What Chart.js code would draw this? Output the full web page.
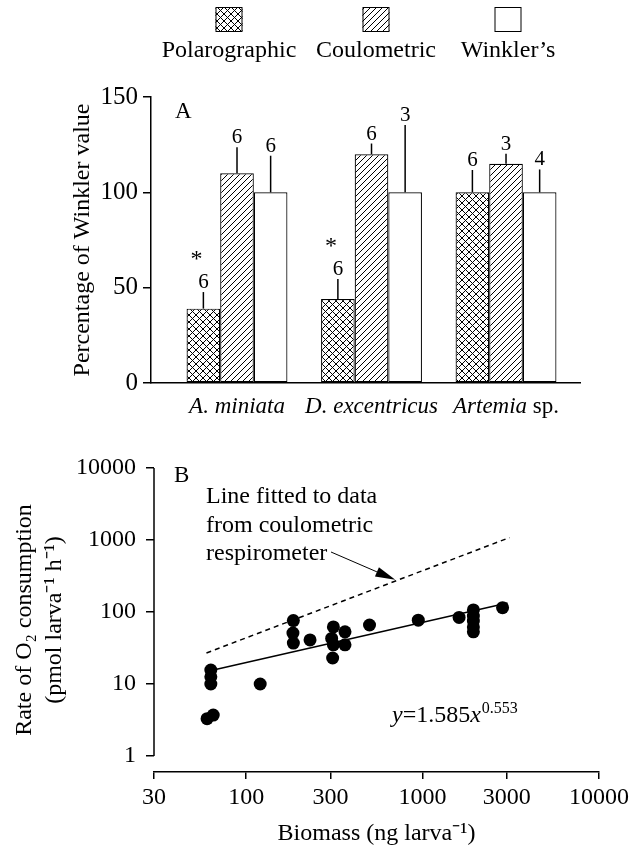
<!DOCTYPE html>
<html>
<head>
<meta charset="utf-8">
<script src="https://cdn.jsdelivr.net/npm/chart.js@4.4.0/dist/chart.umd.min.js"></script>
<style>
  body { margin: 0; background: #fff; }
  #wrap { position: relative; width: 641px; height: 849px; }
  canvas { position: absolute; left: 0; }
  #chartA { top: 0; }
  #chartB { top: 430px; }
</style>
</head>
<body>
<div id="wrap">
  <canvas id="chartA" width="641" height="430"></canvas>
  <canvas id="chartB" width="641" height="419"></canvas>
</div>
<script>
// panel A - percentage of Winkler value
const species = ['A. miniata', 'D. excentricus', 'Artemia sp.'];
const methods = ['Polarographic', 'Coulometric', 'Winkler\u2019s'];
const polarographic = [39, 44, 100];
const coulometric = [110, 120, 115];
const winkler = [100, 100, 100];
const polarographicErr = [8.7, 10.6, 11.7];
const coulometricErr = [13.6, 5.6, 5.3];
const winklerErr = [19.2, 35.3, 12];
const polarographicN = [6, 6, 6];
const coulometricN = [6, 6, 3];
const winklerN = [6, 3, 4];
const polarographicSig = [true, true, false];
const yTicksA = [0, 50, 100, 150];

// panel B - O2 consumption vs biomass
const biomass = [63, 63, 63, 60, 65, 120, 185, 184, 185, 230, 312, 305, 312, 309, 363, 363, 500, 945, 1610, 1940, 1940, 1940, 1940, 1940, 2840];
const rate = [15.6, 12.6, 10, 3.3, 3.7, 10, 76, 51, 37, 41, 62, 43, 35, 23, 53, 35, 66, 77, 84, 107, 88, 75, 62, 53, 115];
const fitBiomass = [68, 3030];
const fitRate = [16, 133];
const coulBiomass = [59.5, 3110];
const coulRate = [27, 1080];
const xTicksB = [30, 100, 300, 1000, 3000, 10000];
const yTicksB = [1, 10, 100, 1000, 10000];

const SERIF = "'Liberation Serif', 'Times New Roman', serif";
Chart.defaults.font.family = SERIF;
Chart.defaults.color = '#000';

function makePattern(step, cross) {
    const c = document.createElement('canvas');
    c.width = step; c.height = step;
    const g = c.getContext('2d');
    g.fillStyle = '#fff';
    g.fillRect(0, 0, step, step);
    g.strokeStyle = '#000';
    g.lineWidth = 1;
    g.beginPath();
    g.moveTo(-1, step + 1); g.lineTo(step + 1, -1);
    g.moveTo(-1, 1); g.lineTo(1, -1);
    g.moveTo(step - 1, step + 1); g.lineTo(step + 1, step - 1);
    if (cross) {
        g.moveTo(-1, -1); g.lineTo(step + 1, step + 1);
        g.moveTo(step - 1, -1); g.lineTo(step + 1, 1);
        g.moveTo(-1, step - 1); g.lineTo(1, step + 1);
    }
    g.stroke();
    return g.createPattern(c, 'repeat');
}

const crossHatch = makePattern(7, true);
const diagHatch = makePattern(6, false);

const toXY = (vals) => vals.map((v, i) => ({ x: i + 1, y: v }));
const pairs = (xs, ys) => xs.map((x, i) => ({ x: x, y: ys[i] }));

// legend, error bars, n labels, species names
const panelA = {
    id: 'panelA',
    afterDatasetsDraw(chart) {
        const ctx = chart.ctx;
        const yScale = chart.scales.y;
        ctx.save();
        ctx.strokeStyle = '#000';
        ctx.fillStyle = '#000';
        ctx.lineWidth = 1.5;
        ctx.textAlign = 'center';
        ctx.textBaseline = 'alphabetic';
        chart.data.datasets.forEach((ds, d) => {
            const meta = chart.getDatasetMeta(d);
            meta.data.forEach((bar, i) => {
                const top = yScale.getPixelForValue(ds.data[i].y + ds.err[i]);
                ctx.beginPath();
                ctx.moveTo(bar.x, bar.y);
                ctx.lineTo(bar.x, top);
                ctx.stroke();
                ctx.font = '21px ' + SERIF;
                const base = top - 4;
                ctx.fillText(String(ds.n[i]), bar.x, base);
                if (ds.sig && ds.sig[i]) {
                    ctx.font = '24px ' + SERIF;
                    ctx.fillText('*', bar.x - 7, base - 22);
                }
            });
        });
        ctx.restore();
    },
    afterDraw(chart) {
        const ctx = chart.ctx;
        const xScale = chart.scales.x;
        ctx.save();
        ctx.fillStyle = '#000';
        ctx.strokeStyle = '#000';

        // legend
        const legendX = [229, 376, 508];
        chart.data.datasets.forEach((ds, i) => {
            const cx = legendX[i];
            ctx.fillStyle = ds.backgroundColor;
            ctx.fillRect(cx - 13.5, 7, 27, 25);
            ctx.lineWidth = 1;
            ctx.strokeRect(cx - 13.5 + 0.5, 7.5, 26, 24);
            ctx.fillStyle = '#000';
            ctx.font = '24px ' + SERIF;
            ctx.textAlign = 'center';
            ctx.textBaseline = 'alphabetic';
            ctx.fillText(ds.label, cx, 57);
        });

        // panel letter
        ctx.textAlign = 'left';
        ctx.font = '23px ' + SERIF;
        ctx.fillText('A', 175, 118);

        // species names
        species.forEach((name, i) => {
            const cx = xScale.getPixelForValue(i + 1);
            let ital = name, plain = '';
            if (name.endsWith(' sp.')) {
                ital = name.slice(0, -4);
                plain = ' sp.';
            }
            ctx.font = 'italic 23px ' + SERIF;
            const w1 = ctx.measureText(ital).width;
            ctx.font = '23px ' + SERIF;
            const w2 = ctx.measureText(plain).width;
            let x = cx - (w1 + w2) / 2;
            ctx.font = 'italic 23px ' + SERIF;
            ctx.fillText(ital, x, 413);
            ctx.font = '23px ' + SERIF;
            ctx.fillText(plain, x + w1, 413);
        });
        ctx.restore();
    }
};

new Chart(document.getElementById('chartA'), {
    type: 'bar',
    data: {
        datasets: [
            { label: methods[0], data: toXY(polarographic), backgroundColor: crossHatch, err: polarographicErr, n: polarographicN, sig: polarographicSig },
            { label: methods[1], data: toXY(coulometric), backgroundColor: diagHatch, err: coulometricErr, n: coulometricN },
            { label: methods[2], data: toXY(winkler), backgroundColor: '#fff', err: winklerErr, n: winklerN }
        ]
    },
    options: {
        responsive: false,
        animation: false,
        devicePixelRatio: 1,
        layout: { padding: { top: 97, right: 61, left: 0, bottom: 0 } },
        datasets: {
            bar: { borderColor: '#000', borderWidth: 1.2, borderSkipped: false, categoryPercentage: 0.75, barPercentage: 1 }
        },
        plugins: { legend: { display: false }, tooltip: { enabled: false } },
        scales: {
            x: {
                type: 'linear',
                offset: false,
                min: 0.3606,
                max: 3.55,
                afterBuildTicks: (s) => { s.ticks = [1, 2, 3].map(v => ({ value: v })); },
                afterFit: (s) => { s.height = 47; },
                ticks: { display: false },
                grid: { display: false, offset: false },
                border: { color: '#000', width: 1.5 }
            },
            y: {
                min: 0,
                max: 150,
                afterBuildTicks: (s) => { s.ticks = yTicksA.map(v => ({ value: v })); },
                afterFit: (s) => { s.width = 151; },
                ticks: { font: { size: 25 }, color: '#000', padding: 5 },
                grid: { drawOnChartArea: false, tickLength: 8, color: '#000', lineWidth: 1.5 },
                border: { color: '#000', width: 1.5 },
                title: {
                    display: true,
                    text: 'Percentage of Winkler value',
                    font: { size: 24, lineHeight: 1.25 },
                    color: '#000',
                    padding: { top: 68, bottom: 0 }
                }
            }
        }
    },
    plugins: [panelA]
});

// y axis line, annotation, arrow and equation
const panelB = {
    id: 'panelB',
    afterDraw(chart) {
        const ctx = chart.ctx;
        const xs = chart.scales.x, ys = chart.scales.y;
        ctx.save();
        ctx.strokeStyle = '#000';
        ctx.fillStyle = '#000';
        ctx.lineWidth = 1.5;
        const ax = chart.chartArea.left;
        ctx.beginPath();
        ctx.moveTo(ax, ys.getPixelForValue(yTicksB[0]));
        ctx.lineTo(ax, ys.getPixelForValue(yTicksB[yTicksB.length - 1]));
        ctx.stroke();

        ctx.textAlign = 'left';
        ctx.textBaseline = 'alphabetic';
        ctx.font = '23px ' + SERIF;
        ctx.fillText('B', 174, 52);

        ctx.font = '24px ' + SERIF;
        ctx.fillText('Line fitted to data', 206, 73);
        ctx.fillText('from coulometric', 206, 101.5);
        ctx.fillText('respirometer', 206, 130);

        // arrow to the dashed line
        const tx = xs.getPixelForValue(700), ty = ys.getPixelForValue(280);
        const sx = 331, sy = 122;
        const ang = Math.atan2(ty - sy, tx - sx);
        const hl = 20, hw = 5;
        const bx = tx - hl * Math.cos(ang), by = ty - hl * Math.sin(ang);
        ctx.lineWidth = 1;
        ctx.beginPath();
        ctx.moveTo(sx, sy);
        ctx.lineTo(bx, by);
        ctx.stroke();
        ctx.beginPath();
        ctx.moveTo(tx, ty);
        ctx.lineTo(bx + hw * Math.sin(ang), by - hw * Math.cos(ang));
        ctx.lineTo(bx - hw * Math.sin(ang), by + hw * Math.cos(ang));
        ctx.closePath();
        ctx.fill();

        // equation
        let x = 392;
        const base = 291.7;
        ctx.font = 'italic 24px ' + SERIF;
        ctx.fillText('y', x, base); x += ctx.measureText('y').width;
        ctx.font = '24px ' + SERIF;
        ctx.fillText('=1.585', x, base); x += ctx.measureText('=1.585').width;
        ctx.font = 'italic 24px ' + SERIF;
        ctx.fillText('x', x, base); x += ctx.measureText('x').width;
        ctx.font = '16px ' + SERIF;
        ctx.fillText('0.553', x + 1, base - 9);
        ctx.restore();
    }
};

new Chart(document.getElementById('chartB'), {
    type: 'scatter',
    data: {
        datasets: [
            { data: pairs(biomass, rate), pointRadius: 6.5, backgroundColor: '#000', borderWidth: 0 },
            { data: pairs(fitBiomass, fitRate), showLine: true, pointRadius: 0, borderColor: '#000', borderWidth: 1.5 },
            { data: pairs(coulBiomass, coulRate), showLine: true, pointRadius: 0, borderColor: '#000', borderWidth: 1.5, borderDash: [5, 4] }
        ]
    },
    options: {
        responsive: false,
        animation: false,
        devicePixelRatio: 1,
        layout: { padding: { top: 38, right: 42, left: 0, bottom: 0 } },
        plugins: { legend: { display: false }, tooltip: { enabled: false } },
        scales: {
            x: {
                type: 'logarithmic',
                min: 30,
                max: 10000,
                afterBuildTicks: (s) => { s.ticks = xTicksB.map(v => ({ value: v })); },
                afterFit: (s) => { s.height = 77; },
                ticks: { font: { size: 24 }, color: '#000', padding: 4, autoSkip: false, maxRotation: 0, callback: (v) => String(v) },
                grid: { drawOnChartArea: false, tickLength: 7, color: '#000', lineWidth: 1.5 },
                border: { color: '#000', width: 1.5 },
                title: {
                    display: true,
                    text: 'Biomass (ng larva\u207B\u00B9)',
                    font: { size: 24, lineHeight: 1.25 },
                    color: '#000',
                    padding: { top: 0, bottom: 0 }
                }
            },
            y: {
                type: 'logarithmic',
                min: 0.6,
                max: 10000,
                afterBuildTicks: (s) => { s.ticks = yTicksB.map(v => ({ value: v })); },
                afterFit: (s) => { s.width = 154; },
                ticks: { font: { size: 24 }, color: '#000', padding: 10, autoSkip: false, callback: (v) => String(v) },
                grid: { drawOnChartArea: false, tickLength: 8, color: '#000', lineWidth: 1.5 },
                border: { display: false },
                title: {
                    display: true,
                    text: ['Rate of O\u2082 consumption', '(pmol larva\u207B\u00B9 h\u207B\u00B9)'],
                    font: { size: 24, lineHeight: 1.25 },
                    color: '#000',
                    padding: { top: 10, bottom: 0 }
                }
            }
        }
    },
    plugins: [panelB]
});
</script>
</body>
</html>
